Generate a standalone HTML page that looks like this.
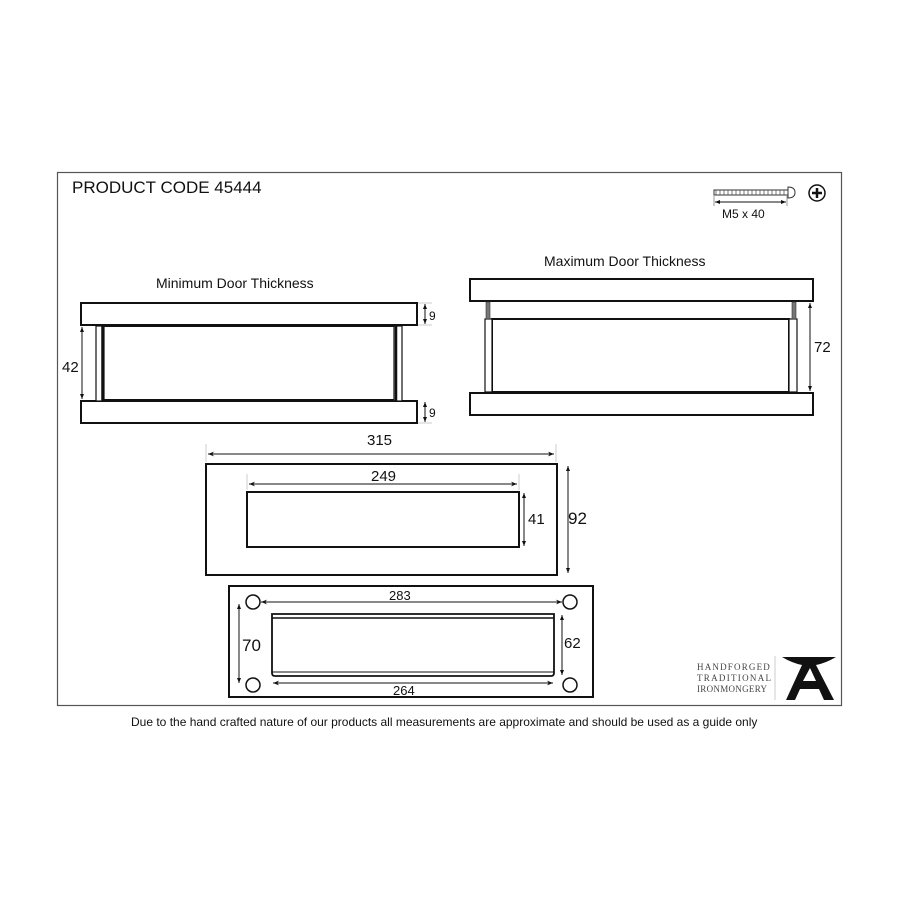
<!DOCTYPE html>
<html><head><meta charset="utf-8"><style>
html,body{margin:0;padding:0;background:#fff;}
svg{display:block;}
text{font-family:"Liberation Sans","DejaVu Sans",sans-serif;fill:#111;}
</style></head><body>
<svg width="900" height="900" viewBox="0 0 900 900" xmlns="http://www.w3.org/2000/svg">
<defs>
<marker id="a" viewBox="0 0 10 10" refX="10" refY="5" markerWidth="8" markerHeight="6" orient="auto-start-reverse"><path d="M0,1 L10,5 L0,9 L3,5 Z" fill="#111"/></marker>
<marker id="s" viewBox="0 0 10 10" refX="10" refY="5" markerWidth="5" markerHeight="5" orient="auto-start-reverse"><path d="M0,1 L10,5 L0,9 Z" fill="#111"/></marker>
</defs>
<rect x="57.5" y="172.5" width="784" height="533" fill="none" stroke="#555" stroke-width="1.2"/>
<text x="72" y="193" font-size="17">PRODUCT CODE 45444</text>

<!-- screw -->
<rect x="714" y="190" width="74" height="5" fill="#fff" stroke="#333" stroke-width="1"/>
<path d="M716,190v5M720,190v5M724,190v5M728,190v5M732,190v5M736,190v5M740,190v5M744,190v5M748,190v5M752,190v5M756,190v5M760,190v5M764,190v5M768,190v5M772,190v5M776,190v5M780,190v5M784,190v5" stroke="#555" stroke-width="0.8"/>
<path d="M788,187 Q795,187 795,192.5 Q795,198 788,198 Z" fill="#fff" stroke="#333"/>
<line x1="715" y1="202" x2="786" y2="202" stroke="#111" marker-start="url(#s)" marker-end="url(#s)"/>
<line x1="714" y1="196" x2="714" y2="206" stroke="#555" stroke-width="0.6"/>
<line x1="787" y1="196" x2="787" y2="206" stroke="#555" stroke-width="0.6"/>
<text x="722" y="218" font-size="12">M5 x 40</text>
<circle cx="817" cy="193" r="8" fill="#fff" stroke="#111" stroke-width="1.5"/>
<path d="M817,188v10M812,193h10" stroke="#111" stroke-width="2.5"/>

<!-- Minimum -->
<text x="156" y="288" font-size="14">Minimum Door Thickness</text>
<rect x="81" y="303" width="336" height="22" fill="#fff" stroke="#111" stroke-width="2"/>
<rect x="81" y="401" width="336" height="22" fill="#fff" stroke="#111" stroke-width="2"/>
<rect x="96" y="326" width="8" height="75" fill="#fff" stroke="#111" stroke-width="1.2"/>
<line x1="102.5" y1="326" x2="102.5" y2="401" stroke="#111" stroke-width="2.5"/>
<rect x="394" y="326" width="8" height="75" fill="#fff" stroke="#111" stroke-width="1.2"/>
<line x1="396" y1="326" x2="396" y2="401" stroke="#111" stroke-width="2.5"/>
<line x1="104" y1="326" x2="394" y2="326" stroke="#111" stroke-width="2"/>
<line x1="104" y1="400" x2="394" y2="400" stroke="#111" stroke-width="2"/>
<line x1="82" y1="327" x2="82" y2="399" stroke="#111" marker-start="url(#s)" marker-end="url(#s)"/>
<text x="62" y="372" font-size="15">42</text>
<line x1="425" y1="304" x2="425" y2="324" stroke="#111" marker-start="url(#s)" marker-end="url(#s)"/>
<line x1="418" y1="303" x2="432" y2="303" stroke="#aaa" stroke-width="0.6"/>
<line x1="418" y1="325" x2="432" y2="325" stroke="#aaa" stroke-width="0.6"/>
<text x="429" y="320" font-size="12">9</text>
<line x1="425" y1="402" x2="425" y2="422" stroke="#111" marker-start="url(#s)" marker-end="url(#s)"/>
<line x1="418" y1="423" x2="432" y2="423" stroke="#aaa" stroke-width="0.6"/>
<text x="429" y="417" font-size="12">9</text>

<!-- Maximum -->
<text x="544" y="266" font-size="14">Maximum Door Thickness</text>
<rect x="470" y="279" width="343" height="22" fill="#fff" stroke="#111" stroke-width="2"/>
<rect x="470" y="393" width="343" height="22" fill="#fff" stroke="#111" stroke-width="2"/>
<rect x="492" y="319" width="297" height="73" fill="#fff" stroke="#111" stroke-width="2"/>
<rect x="485" y="319" width="7" height="73" fill="#fff" stroke="#111" stroke-width="1.2"/>
<rect x="789" y="319" width="8" height="73" fill="#fff" stroke="#111" stroke-width="1.2"/>
<rect x="486" y="302" width="4" height="17" fill="#777" stroke="#333" stroke-width="0.6"/>
<rect x="792" y="302" width="4" height="17" fill="#777" stroke="#333" stroke-width="0.6"/>
<line x1="810" y1="303" x2="810" y2="391" stroke="#111" marker-start="url(#s)" marker-end="url(#s)"/>
<text x="814" y="352" font-size="15">72</text>

<!-- Middle plate -->
<rect x="206" y="464" width="351" height="111" fill="#fff" stroke="#111" stroke-width="2"/>
<rect x="247" y="492" width="272" height="55" fill="#fff" stroke="#111" stroke-width="2"/>
<line x1="208" y1="454" x2="554" y2="454" stroke="#111" marker-start="url(#a)" marker-end="url(#a)"/>
<line x1="206" y1="444" x2="206" y2="462" stroke="#aaa" stroke-width="0.6"/>
<line x1="556" y1="444" x2="556" y2="462" stroke="#aaa" stroke-width="0.6"/>
<text x="367" y="445" font-size="15">315</text>
<line x1="249" y1="484" x2="517" y2="484" stroke="#111" marker-start="url(#a)" marker-end="url(#a)"/>
<line x1="247" y1="474" x2="247" y2="490" stroke="#aaa" stroke-width="0.6"/>
<line x1="519" y1="474" x2="519" y2="490" stroke="#aaa" stroke-width="0.6"/>
<text x="371" y="481" font-size="15">249</text>
<line x1="524" y1="493" x2="524" y2="546" stroke="#111" marker-start="url(#s)" marker-end="url(#s)"/>
<text x="528" y="524" font-size="15">41</text>
<line x1="568" y1="466" x2="568" y2="573" stroke="#111" marker-start="url(#s)" marker-end="url(#s)"/>
<text x="568" y="524" font-size="17">92</text>

<!-- Bottom back plate -->
<rect x="229" y="586" width="364" height="111" fill="#fff" stroke="#111" stroke-width="2"/>
<circle cx="253" cy="602" r="7" fill="#fff" stroke="#111" stroke-width="1.5"/>
<circle cx="570" cy="602" r="7" fill="#fff" stroke="#111" stroke-width="1.5"/>
<circle cx="253" cy="685" r="7" fill="#fff" stroke="#111" stroke-width="1.5"/>
<circle cx="570" cy="685" r="7" fill="#fff" stroke="#111" stroke-width="1.5"/>
<path d="M272,614 H554 V673 Q554,676 551,676 H275 Q272,676 272,673 Z" fill="#fff" stroke="#111" stroke-width="1.8"/>
<line x1="272" y1="618" x2="554" y2="618" stroke="#111" stroke-width="1.5"/>
<line x1="272" y1="672" x2="554" y2="672" stroke="#111" stroke-width="1"/>
<line x1="261" y1="602" x2="562" y2="602" stroke="#111" marker-start="url(#a)" marker-end="url(#a)"/>
<text x="389" y="600" font-size="13">283</text>
<line x1="273" y1="683" x2="553" y2="683" stroke="#111" marker-start="url(#a)" marker-end="url(#a)"/>
<text x="393" y="695" font-size="13">264</text>
<line x1="239" y1="604" x2="239" y2="683" stroke="#111" marker-start="url(#s)" marker-end="url(#s)"/>
<text x="242" y="651" font-size="17">70</text>
<line x1="562" y1="615" x2="562" y2="675" stroke="#111" marker-start="url(#s)" marker-end="url(#s)"/>
<text x="564" y="648" font-size="15">62</text>

<!-- Logo -->
<g font-family="Liberation Serif, serif">
<text x="697" y="670" font-size="9" letter-spacing="1.2" style="font-family:'Liberation Serif',serif;fill:#444">HANDFORGED</text>
<text x="697" y="681" font-size="9" letter-spacing="1.3" style="font-family:'Liberation Serif',serif;fill:#444">TRADITIONAL</text>
<text x="697" y="692" font-size="9" letter-spacing="0.3" style="font-family:'Liberation Serif',serif;fill:#444">IRONMONGERY</text>
</g>
<line x1="775" y1="656" x2="775" y2="700" stroke="#ccc" stroke-width="1"/>
<path d="M782,657 H836 Q826,663 816,665 L834,700 H824 L819,689 H800 L795,700 H786 L802,665 Q792,663 782,657 Z M803,681 H816 L810,668 Z" fill="#111" fill-rule="evenodd"/>

<text x="131" y="726" font-size="12">Due to the hand crafted nature of our products all measurements are approximate and should be used as a guide only</text>
</svg>
</body></html>
